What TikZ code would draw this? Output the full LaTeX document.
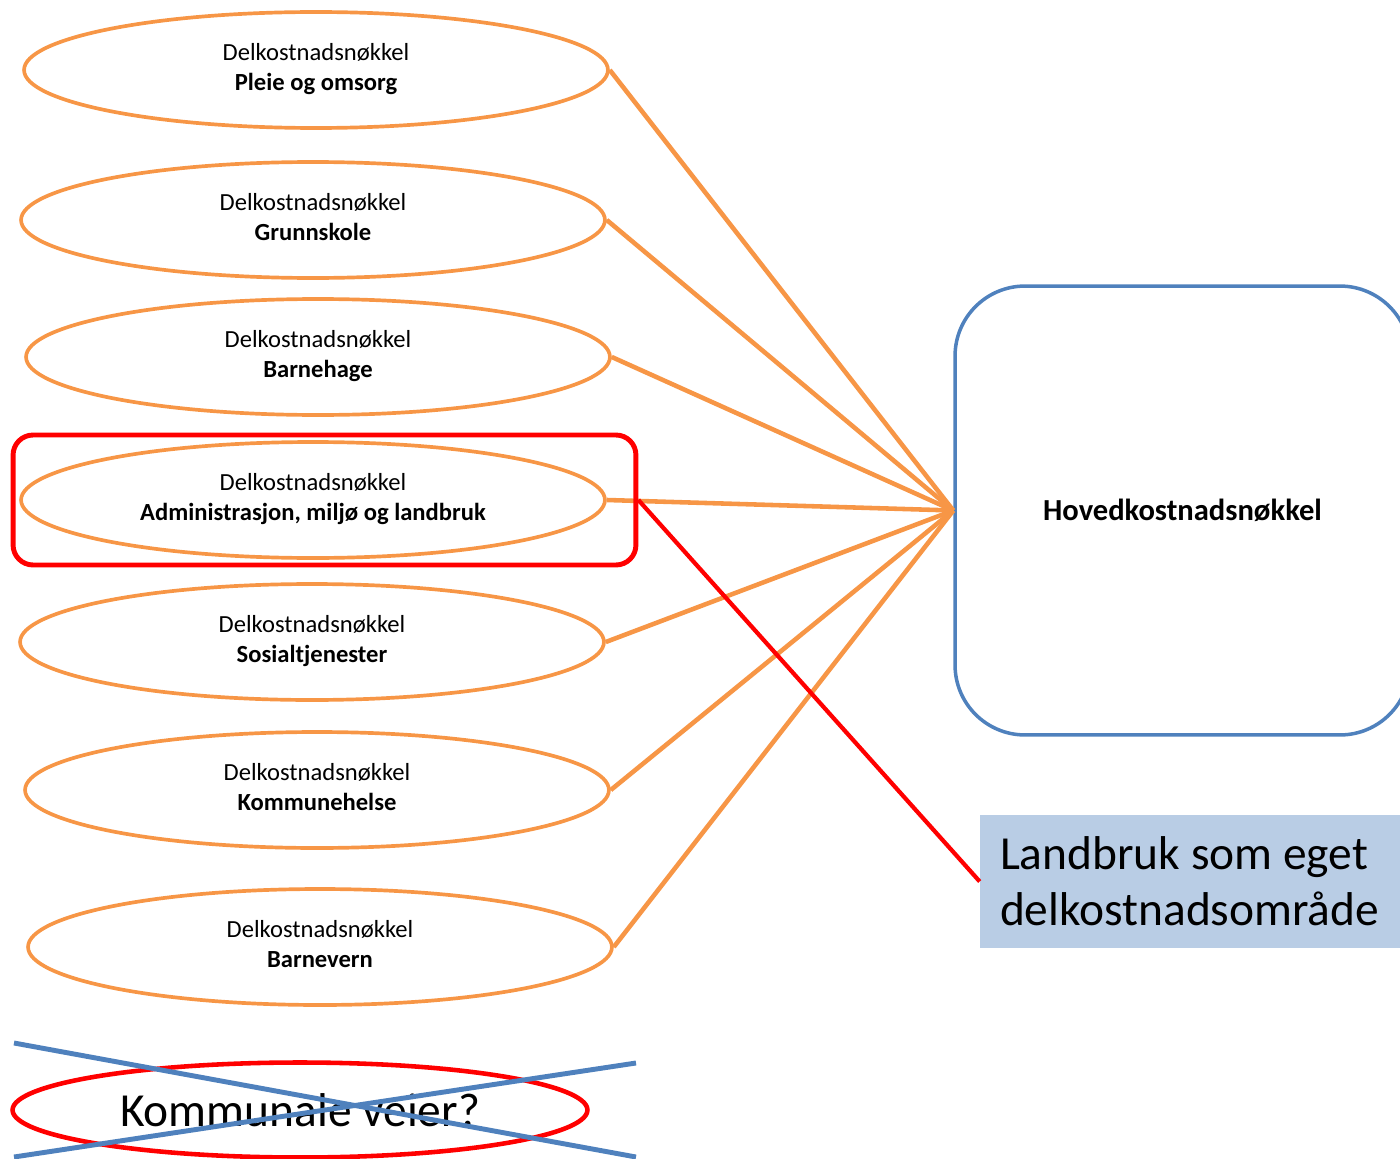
\documentclass[tikz,border=0pt]{standalone}
\usepackage{fontspec}
\setmainfont{Carlito}
\usepackage{tikz}
\usetikzlibrary{shapes.geometric}
\definecolor{orangeline}{HTML}{F79646}
\definecolor{blueline}{HTML}{4F81BD}
\definecolor{bluefill}{HTML}{B9CDE5}
\definecolor{redline}{HTML}{FF0000}

\begin{document}
\begin{tikzpicture}[x=0.02cm,y=-0.02cm,
        del/.style = {draw=orangeline, line width=2.1pt, ellipse, minimum width=11.68cm, minimum height=2.32cm, inner sep=0pt, align=center, font=\fontsize{14}{17}\selectfont},
        link/.style = {draw=orangeline, line width=2.6pt},
        hoved/.style = {draw=blueline, line width=2pt, rounded corners=1.4cm, minimum width=9.1cm, minimum height=8.98cm, font=\bfseries\fontsize{17.4}{20}\selectfont},
        marker/.style = {draw=redline, line width=2.8pt, rounded corners=0.4cm, minimum width=12.46cm, minimum height=2.6cm},
        note/.style = {fill=bluefill, text width=7.6cm, inner xsep=0.4cm, minimum height=2.66cm, align=flush left, font=\fontsize{27}{32}\selectfont},
        veier/.style = {draw=redline, line width=2.6pt, ellipse, minimum width=11.5cm, minimum height=1.9cm, inner sep=0pt, font=\fontsize{27}{32}\selectfont},
        cross/.style = {draw=blueline, line width=2.8pt}]
        \useasboundingbox (0,0) rectangle (1400,1159);
        \node[del] (1) at (316,70) {Delkostnadsnøkkel\\\textbf{Pleie og omsorg}\\[-13.5pt]};
        \node[del] (2) at (313,220) {Delkostnadsnøkkel\\\textbf{Grunnskole}\\[-13.5pt]};
        \node[del] (3) at (318,357) {Delkostnadsnøkkel\\\textbf{Barnehage}\\[-13.5pt]};
        \node[del] (4) at (313,500) {Delkostnadsnøkkel\\\textbf{Administrasjon, miljø og landbruk}\\[-13.5pt]};
        \node[del] (5) at (312,642) {Delkostnadsnøkkel\\\textbf{Sosialtjenester}\\[-13.5pt]};
        \node[del] (6) at (317,790) {Delkostnadsnøkkel\\\textbf{Kommunehelse}\\[-13.5pt]};
        \node[del] (7) at (320,947) {Delkostnadsnøkkel\\\textbf{Barnevern}\\[-13.5pt]};
        \node[hoved] (h) at (1182.5,510.5) {Hovedkostnadsnøkkel};
        \draw[link] (1.east) -- (h.west);
        \draw[link] (2.east) -- (h.west);
        \draw[link] (3.east) -- (h.west);
        \draw[link] (4.east) -- (h.west);
        \draw[link] (5.east) -- (h.west);
        \draw[link] (6.east) -- (h.west);
        \draw[link] (7.east) -- (h.west);
        % landbruk
        \node[marker] (m) at (324.5,500) {};
        \node[note] (n) at (1190,881.5) {Landbruk som eget\\delkostnadsområde};
        \draw[redline, line width=2.4pt] (m.east) -- (n.west);
        % struck out
        \node[veier] (v) at (300,1110) {Kommunale veier?};
        \coordinate (k1) at (14,1043);
        \coordinate (k2) at (636,1157);
        \coordinate (k3) at (14,1157);
        \coordinate (k4) at (636,1063);
        \draw[cross] (k1) -- (k2);
        \draw[cross] (k3) -- (k4);
\end{tikzpicture}
\end{document}
